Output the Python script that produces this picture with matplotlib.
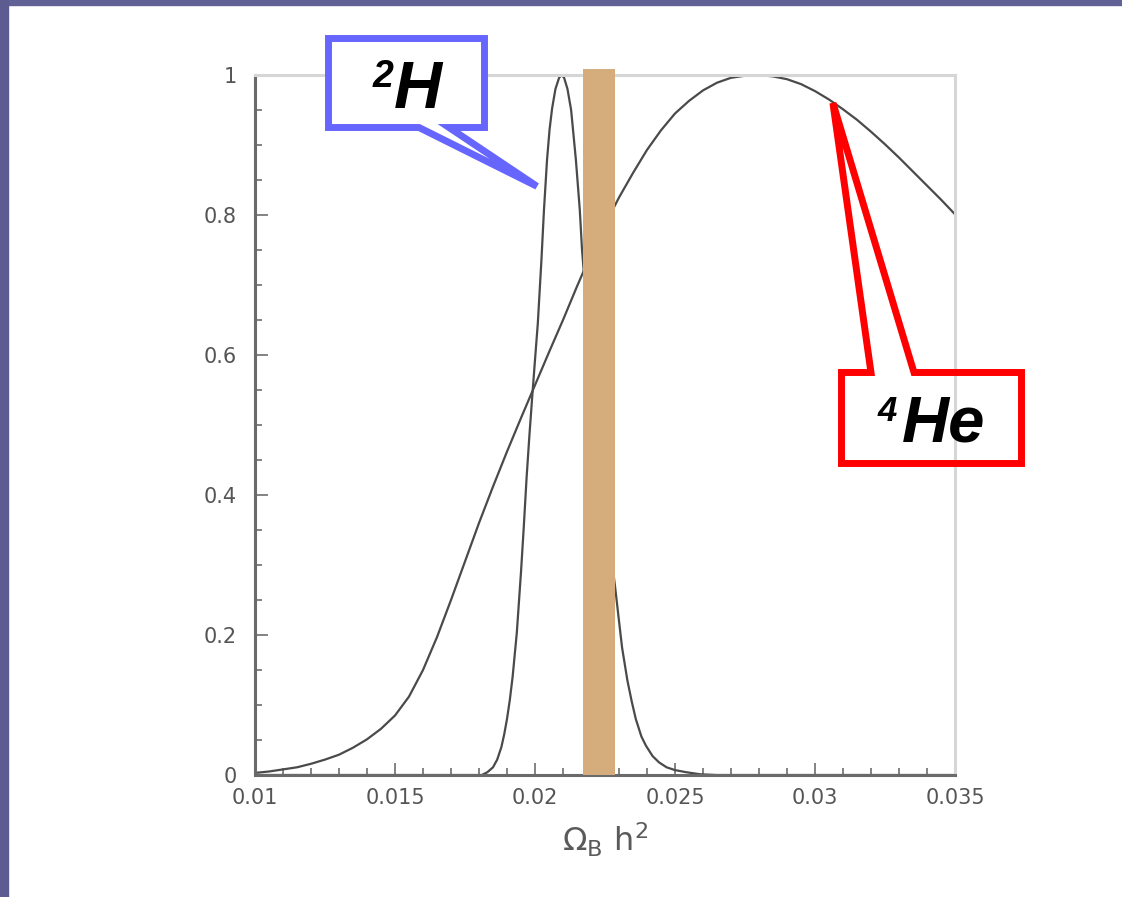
import matplotlib
matplotlib.use('Agg')
import matplotlib.pyplot as plt
from matplotlib.patches import Polygon, Rectangle
from matplotlib.ticker import MultipleLocator

# likelihood curves vs baryon density
he_x = [0.0100, 0.0105, 0.0110, 0.0115, 0.0120, 0.0125, 0.0130, 0.0135, 0.0140, 0.0145,
        0.0150, 0.0155, 0.0160, 0.0165, 0.0170, 0.0175, 0.0180, 0.0185, 0.0190, 0.0195,
        0.0200, 0.0205, 0.0210, 0.0215, 0.0220, 0.0225, 0.0230, 0.0235, 0.0240, 0.0245,
        0.0250, 0.0255, 0.0260, 0.0265, 0.0270, 0.0275, 0.0280, 0.0285, 0.0290, 0.0295,
        0.0300, 0.0305, 0.0310, 0.0315, 0.0320, 0.0325, 0.0330, 0.0335, 0.0340, 0.0345,
        0.0350]
he_y = [0.003, 0.005, 0.008, 0.011, 0.016, 0.022, 0.029, 0.039, 0.051, 0.066,
        0.085, 0.112, 0.150, 0.197, 0.250, 0.305, 0.360, 0.412, 0.462, 0.510,
        0.557, 0.604, 0.650, 0.698, 0.744, 0.786, 0.825, 0.860, 0.893, 0.921,
        0.945, 0.963, 0.978, 0.989, 0.996, 0.999, 1.000, 0.998, 0.994, 0.987,
        0.977, 0.965, 0.951, 0.936, 0.919, 0.901, 0.882, 0.862, 0.842, 0.822,
        0.801]

d_x = [0.0100, 0.0150, 0.0181, 0.0183, 0.0185, 0.01865, 0.0188, 0.0189, 0.0190, 0.0191,
       0.0192, 0.01935, 0.0195, 0.0196, 0.0197, 0.0198, 0.0199, 0.0200, 0.0201, 0.02023,
       0.02032, 0.02043, 0.02052, 0.02061, 0.02073, 0.02086, 0.02095, 0.02104, 0.02116, 0.02129,
       0.02146, 0.0216, 0.02168, 0.0218, 0.0221, 0.0224, 0.0227, 0.02286, 0.0230, 0.02311,
       0.0233, 0.02346, 0.0236, 0.0238, 0.02396, 0.0242, 0.02443, 0.0247, 0.0250, 0.0254,
       0.0259, 0.0265, 0.0350]
d_y = [0.0, 0.0, 0.0, 0.004, 0.011, 0.022, 0.040, 0.058, 0.080, 0.107,
       0.140, 0.203, 0.290, 0.355, 0.425, 0.485, 0.540, 0.593, 0.645, 0.736,
       0.807, 0.879, 0.922, 0.952, 0.980, 0.996, 1.0, 0.996, 0.980, 0.950,
       0.879, 0.807, 0.750, 0.690, 0.560, 0.430, 0.320, 0.269, 0.220, 0.182,
       0.135, 0.104, 0.080, 0.055, 0.042, 0.027, 0.018, 0.011, 0.007, 0.004,
       0.001, 0.0, 0.0]

# measured band
band_lo = 0.02173
band_hi = 0.02286
band_top = 1.009

x_ticks = [0.01, 0.015, 0.02, 0.025, 0.03, 0.035]
x_labels = ['0.01', '0.015', '0.02', '0.025', '0.03', '0.035']
y_ticks = [0, 0.2, 0.4, 0.6, 0.8, 1]
y_labels = ['0', '0.2', '0.4', '0.6', '0.8', '1']

# where the callouts point
d_point = (0.02007, 0.841)
he_point = (0.03064, 0.960)

W, H = 1122, 897
fig = plt.figure(figsize=(W / 100, H / 100), dpi=100)
fig.patch.set_facecolor('white')


def px(x, y):
    return (x / W, 1 - y / H)


# slide frame
fig.add_artist(Rectangle(px(0, 5), 1, 5 / H, transform=fig.transFigure,
                         color='#616196', zorder=0))
fig.add_artist(Rectangle(px(0, H), 8 / W, 1, transform=fig.transFigure,
                         color='#5c5c90', zorder=0))

ax = fig.add_axes([255 / W, 1 - 775 / H, 700 / W, 700 / H])
ax.plot(he_x, he_y, color='#4a4a4a', lw=1.6, zorder=2)
ax.plot(d_x, d_y, color='#4a4a4a', lw=1.6, zorder=2)
ax.bar((band_lo + band_hi) / 2, band_top, width=band_hi - band_lo, bottom=0,
       color='#d5ac7b', zorder=3, clip_on=False)

ax.set_xlim(0.01, 0.035)
ax.set_ylim(0, 1)
ax.set_xticks(x_ticks)
ax.set_xticklabels(x_labels)
ax.set_yticks(y_ticks)
ax.set_yticklabels(y_labels)
ax.xaxis.set_minor_locator(MultipleLocator(0.001))
ax.yaxis.set_minor_locator(MultipleLocator(0.05))
ax.tick_params(which='both', direction='in', top=False, right=False,
               color='#7a7a7a', width=1.3, labelsize=15, labelcolor='#555555')
ax.tick_params(which='major', length=9)
ax.tick_params(which='minor', length=5)
ax.tick_params(axis='x', pad=9)
ax.tick_params(axis='y', pad=13)
for s in ['left', 'bottom']:
    ax.spines[s].set_color('#6a6a6a')
    ax.spines[s].set_linewidth(2.2)
for s in ['top', 'right']:
    ax.spines[s].set_color('#d6d6d6')
    ax.spines[s].set_linewidth(2.2)
ax.set_xlabel(r'$\Omega_{\mathrm{B}}\ \mathrm{h}^2$', fontsize=23, color='#5a5a5a',
              labelpad=10)


def to_fig(pt):
    return fig.transFigure.inverted().transform(ax.transData.transform(pt))


# 2H callout
blue = [px(328.5, 38.5), px(484.5, 38.5), px(484.5, 127.5), px(449, 127.5),
        to_fig(d_point), px(419, 127.5), px(328.5, 127.5)]
fig.add_artist(Polygon(blue, closed=True, transform=fig.transFigure,
                       facecolor='white', edgecolor='#6666ff', lw=5,
                       joinstyle='miter', zorder=5))
fig.text(*px(373, 87), '2', fontsize=27, fontweight='bold', fontstyle='italic',
         family='Liberation Sans', ha='left', va='baseline', zorder=6)
fig.text(*px(394, 108), 'H', fontsize=48, fontweight='bold', fontstyle='italic',
         family='Liberation Sans', ha='left', va='baseline', zorder=6)

# 4He callout
red = [px(841.5, 372.5), px(871, 372.5), to_fig(he_point), px(914, 372.5),
       px(1021.5, 372.5), px(1021.5, 463.5), px(841.5, 463.5)]
fig.add_artist(Polygon(red, closed=True, transform=fig.transFigure,
                       facecolor='none', edgecolor='#ff0000', lw=5,
                       joinstyle='miter', zorder=5))
fig.text(*px(878, 421), '4', fontsize=25, fontweight='bold', fontstyle='italic',
         family='Liberation Sans', ha='left', va='baseline', zorder=6)
fig.text(*px(902, 442), 'He', fontsize=47, fontweight='bold', fontstyle='italic',
         family='Liberation Sans', ha='left', va='baseline', zorder=6)

fig.savefig('out.png', dpi=100)
